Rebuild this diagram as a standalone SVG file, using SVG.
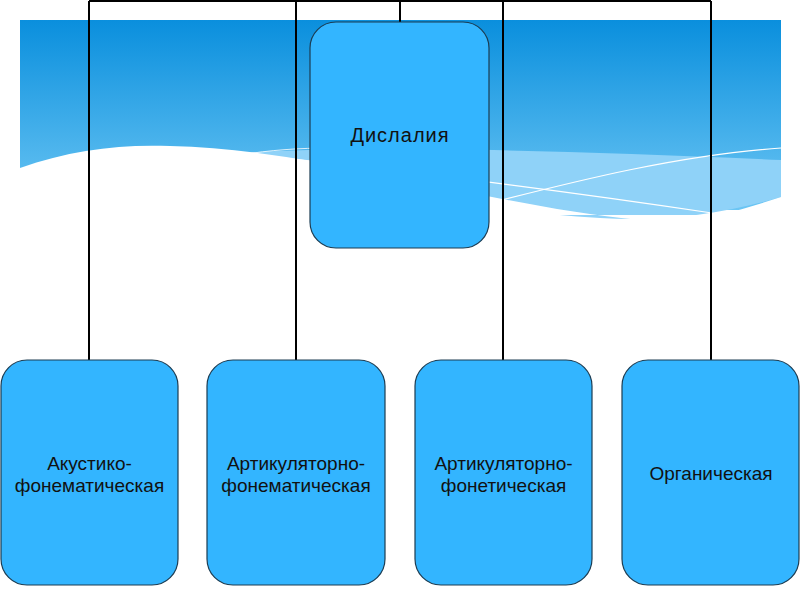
<svg xmlns="http://www.w3.org/2000/svg" width="800" height="600" viewBox="0 0 800 600">
<defs>
<linearGradient id="bg" x1="0" y1="0" x2="0" y2="1">
<stop offset="0" stop-color="#0a8fdd"/>
<stop offset="1" stop-color="#6cc6f4"/>
</linearGradient>
<style>
.node{fill:#33b5ff;stroke:#1c3c52;stroke-width:1.2}
.lbl{font-family:"Liberation Sans",Arial,sans-serif;font-size:19px;fill:#111;text-anchor:middle}
.big{font-size:20px;letter-spacing:1px}
.conn{stroke:#000;stroke-width:2;fill:none}
</style>
</defs>
<rect width="800" height="600" fill="#fff"/>
<g id="background">
<rect x="20" y="20" width="761" height="190" fill="url(#bg)"/>
<path d="M240,153 C360,145 560,150 781,160 L781,197 C720,215 660,222 600,218 C480,212 360,180 240,153 Z" fill="#8fd2f8"/>
<path d="M20,168 C70,150 120,144 170,146 C330,150 480,205 640,220 C700,224 740,210 781,197 L781,215 L20,215 Z" fill="#fff"/>
<path d="M250,155 C360,165 560,190 712,213" stroke="#fff" stroke-width="1.2" fill="none"/>
<path d="M490,203 C580,180 680,155 781,148" stroke="#fff" stroke-width="1.2" fill="none"/>
<path d="M240,155 C270,150 300,148 330,148" stroke="#fff" stroke-width="1" fill="none" opacity="0.8"/>
</g>
<g id="connectors" class="conn">
<path d="M89,1 H711"/>
<path d="M89,1 V360"/>
<path d="M296,1 V360"/>
<path d="M503,1 V360"/>
<path d="M711,1 V360"/>
<path d="M400,1 V22"/>
</g>
<g id="n0">
<rect class="node" x="310" y="22" width="179" height="226" rx="26"/>
<text class="lbl big" x="400" y="142">Дислалия</text>
</g>
<g id="n1">
<rect class="node" x="1" y="360" width="177" height="225" rx="26"/>
<text class="lbl" x="89.5" y="470">Акустико-</text>
<text class="lbl" x="89.5" y="492">фонематическая</text>
</g>
<g id="n2">
<rect class="node" x="207" y="360" width="178" height="225" rx="26"/>
<text class="lbl" x="296" y="470">Артикуляторно-</text>
<text class="lbl" x="296" y="492">фонематическая</text>
</g>
<g id="n3">
<rect class="node" x="415" y="360" width="177" height="225" rx="26"/>
<text class="lbl" x="503.5" y="470">Артикуляторно-</text>
<text class="lbl" x="503.5" y="492">фонетическая</text>
</g>
<g id="n4">
<rect class="node" x="622" y="360" width="177" height="225" rx="26"/>
<text class="lbl" x="711" y="480">Органическая</text>
</g>
</svg>
